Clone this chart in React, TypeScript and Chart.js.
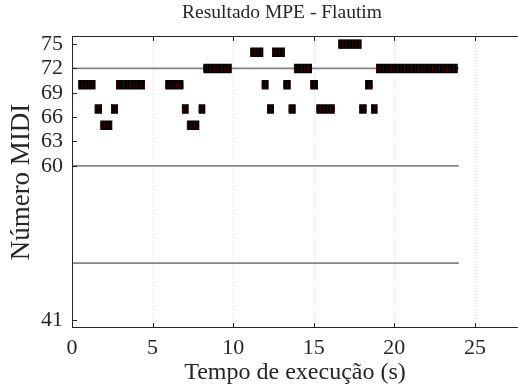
import { useEffect, useRef } from 'react';
import { Chart, registerables } from 'chart.js';

Chart.register(...registerables);

const chartTitle = 'Resultado MPE - Flautim';
const xLabel = 'Tempo de execução (s)';
const yLabel = 'Número MIDI';
const xTicks = [0, 5, 10, 15, 20, 25];
const yTicks = [41, 60, 63, 66, 69, 72, 75];
const refLineLevels = [72, 60, 48];
const refLineEnd = 24;

// note segments [start, end] in seconds, grouped by MIDI pitch
const notes75 = [[16.52, 17.97]];
const notes74 = [[11.06, 11.87], [12.41, 13.21]];
const notes72 = [[8.15, 9.91], [13.77, 14.89], [18.86, 23.93]];
const notes70 = [[0.39, 1.46], [2.73, 4.53], [5.79, 6.91], [11.77, 12.2], [13.11, 13.57], [14.78, 15.26], [18.18, 18.65]];
const notes67 = [[1.41, 1.86], [2.42, 2.85], [6.82, 7.24], [7.86, 8.27], [12.1, 12.53], [13.44, 13.88], [15.16, 16.3], [17.82, 18.28], [18.55, 18.96]];
const notes65 = [[1.76, 2.5], [7.13, 7.9]];
const pitches = [75, 74, 72, 70, 67, 65];
const noteRows = [notes75, notes74, notes72, notes70, notes67, notes65];

const FONT = "'Liberation Serif', 'Times New Roman', serif";
const AXIS_COLOR = '#262626';

function rowPoints(pitch: number, row: number[][]) {
  const pts: { x: number; y: number | null }[] = [];
  row.forEach(([s, e]) => {
    pts.push({ x: s, y: pitch });
    pts.push({ x: e, y: pitch });
    pts.push({ x: e, y: null });
  });
  return pts;
}

const axesPlugin = {
  id: 'axesBox',
  beforeDatasetsDraw(chart: any) {
    const { ctx, chartArea, scales } = chart;
    const { top, bottom } = chartArea;
    ctx.save();
    ctx.strokeStyle = '#dcdcdc';
    ctx.lineWidth = 1;
    ctx.setLineDash([1, 2]);
    xTicks.forEach((v) => {
      if (v === 0) return;
      const px = Math.round(scales.x.getPixelForValue(v)) + 0.5;
      ctx.beginPath();
      ctx.moveTo(px, top);
      ctx.lineTo(px, bottom);
      ctx.stroke();
    });
    ctx.restore();
  },
  afterDatasetsDraw(chart: any) {
    const { ctx, chartArea, scales } = chart;
    const { left, right, top, bottom } = chartArea;
    ctx.save();
    ctx.strokeStyle = AXIS_COLOR;
    ctx.lineWidth = 1;
    ctx.beginPath();
    ctx.moveTo(left + 0.5, top);
    ctx.lineTo(left + 0.5, bottom);
    ctx.moveTo(left, bottom - 0.5);
    ctx.lineTo(right, bottom - 0.5);
    ctx.moveTo(left, top + 0.5);
    ctx.lineTo(right, top + 0.5);
    const tl = 5;
    xTicks.forEach((v) => {
      const px = Math.round(scales.x.getPixelForValue(v)) + 0.5;
      ctx.moveTo(px, bottom);
      ctx.lineTo(px, bottom - tl);
      ctx.moveTo(px, top);
      ctx.lineTo(px, top + tl);
    });
    yTicks.forEach((v) => {
      const py = Math.round(scales.y.getPixelForValue(v)) + 0.5;
      ctx.moveTo(left, py);
      ctx.lineTo(left + tl, py);
    });
    ctx.stroke();
    ctx.fillStyle = AXIS_COLOR;
    ctx.font = `19.5px ${FONT}`;
    ctx.textAlign = 'center';
    ctx.textBaseline = 'middle';
    ctx.fillText(chartTitle, 282, 13);
    ctx.restore();
  },
};

export default function App() {
  const ref = useRef<HTMLCanvasElement | null>(null);
  useEffect(() => {
    if (!ref.current) return;
    const datasets: any[] = [];
    // dark red hatch overlays (drawn on top)
    pitches.forEach((p, i) => {
      datasets.push({
        data: rowPoints(p, noteRows[i]),
        borderColor: '#4a0000',
        borderWidth: 7,
        borderDash: [1, 2.5],
        borderCapStyle: 'butt',
        pointRadius: 0,
        spanGaps: false,
        order: 0,
      });
    });
    // black note bodies
    pitches.forEach((p, i) => {
      datasets.push({
        data: rowPoints(p, noteRows[i]),
        borderColor: '#000000',
        borderWidth: 9.5,
        borderCapStyle: 'butt',
        pointRadius: 0,
        spanGaps: false,
        order: 1,
      });
    });
    // grey reference lines
    refLineLevels.forEach((lv) => {
      datasets.push({
        data: [{ x: 0, y: lv }, { x: refLineEnd, y: lv }],
        borderColor: '#858585',
        borderWidth: 1.8,
        pointRadius: 0,
        order: 2,
      });
    });
    const chart = new Chart(ref.current, {
      type: 'line',
      data: { datasets },
      plugins: [axesPlugin],
      options: {
        animation: false,
        responsive: true,
        maintainAspectRatio: false,
        layout: { padding: { top: 36, left: 0, right: 0, bottom: 0 } },
        plugins: { legend: { display: false }, tooltip: { enabled: false }, title: { display: false } },
        elements: { line: { tension: 0, fill: false } },
        scales: {
          x: {
            type: 'linear',
            min: 0,
            max: 27.67,
            grid: { display: false, drawTicks: false },
            border: { display: false },
            afterBuildTicks: (s: any) => { s.ticks = xTicks.map((v) => ({ value: v })); },
            afterFit: (s: any) => { s.height = 64; },
            ticks: { color: AXIS_COLOR, font: { family: FONT, size: 22 }, padding: 7, maxRotation: 0, autoSkip: false },
            title: { display: true, text: xLabel, color: AXIS_COLOR, font: { family: FONT, size: 24 }, padding: { top: 0, bottom: 5 } },
          },
          y: {
            type: 'linear',
            min: 40,
            max: 76,
            grid: { display: false, drawTicks: false },
            border: { display: false },
            afterBuildTicks: (s: any) => { s.ticks = yTicks.map((v) => ({ value: v })); },
            afterFit: (s: any) => { s.width = 72; },
            ticks: { color: AXIS_COLOR, font: { family: FONT, size: 22 }, padding: 9, autoSkip: false },
            title: { display: true, text: yLabel, color: AXIS_COLOR, font: { family: FONT, size: 27 }, padding: { top: 6, bottom: 0 } },
          },
        },
      },
    });
    return () => chart.destroy();
  }, []);
  return (
    <div style={{ position: 'fixed', left: 0, top: 0, width: 518, height: 392, background: '#fff' }}>
      <canvas ref={ref} />
    </div>
  );
}
